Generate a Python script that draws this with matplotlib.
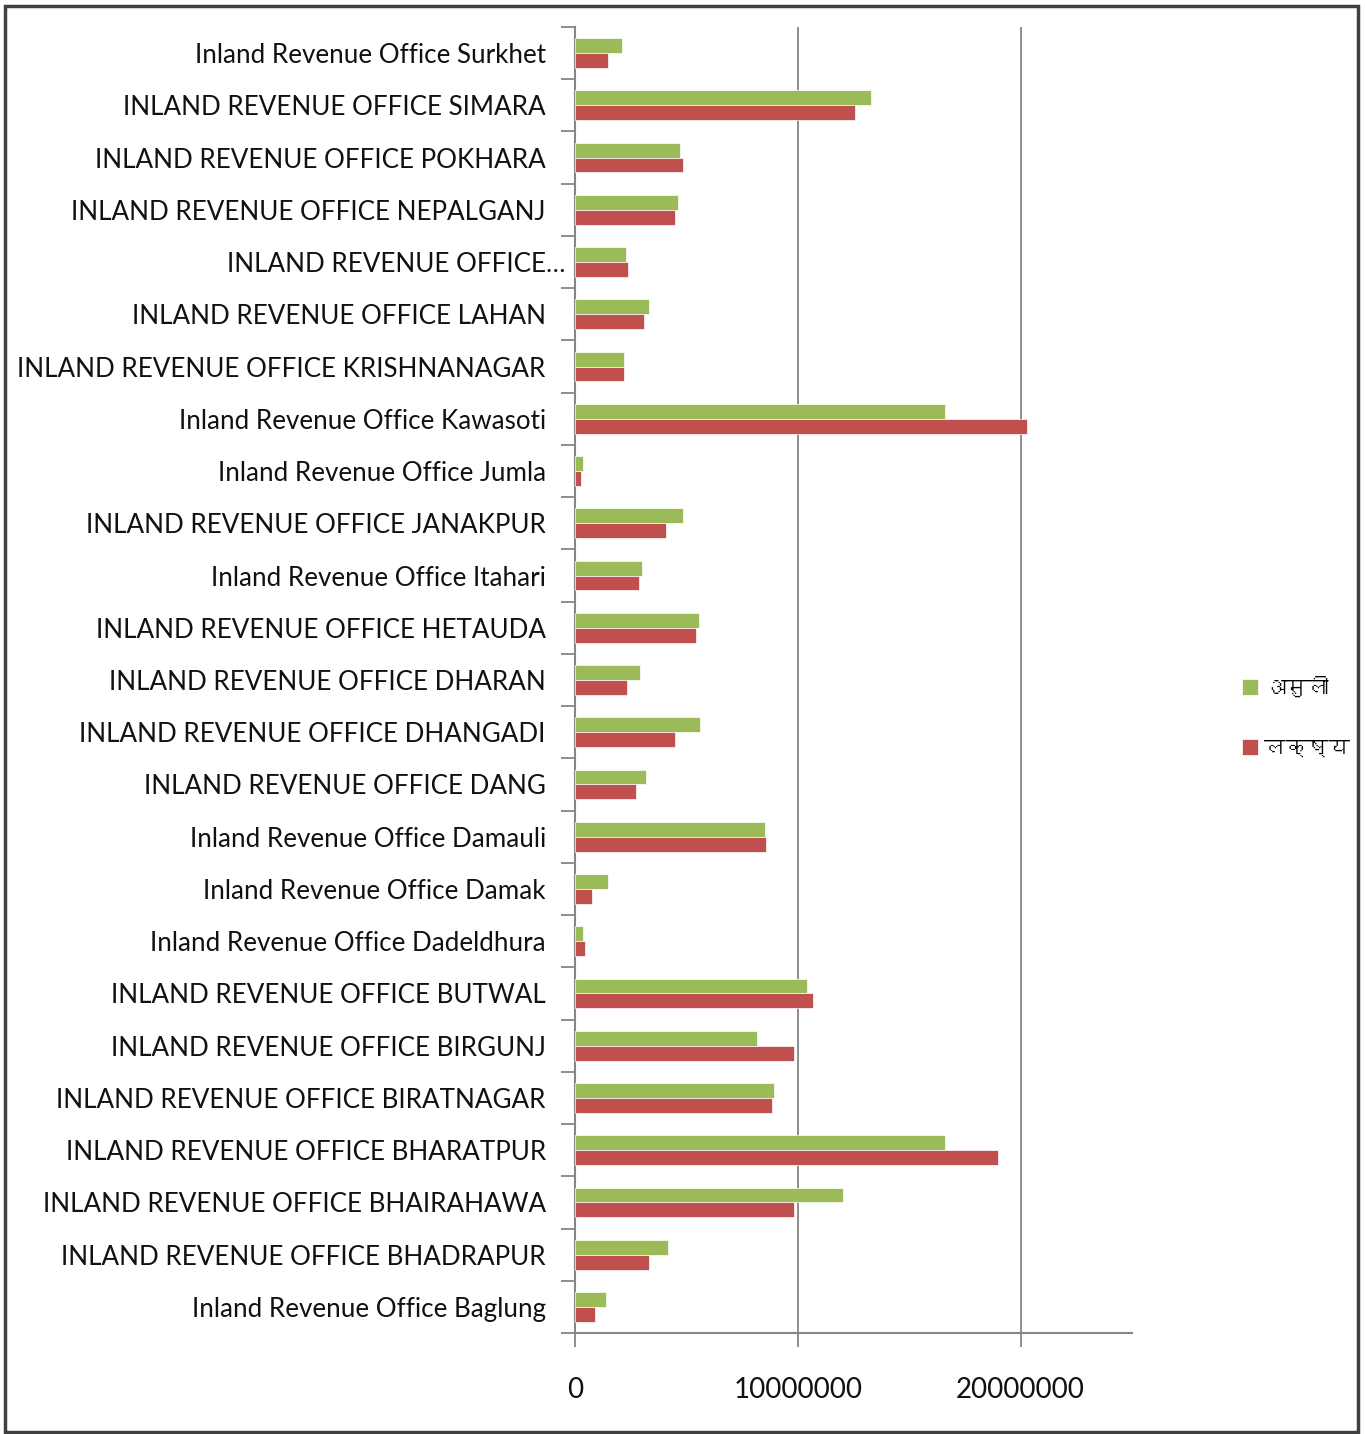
import matplotlib
matplotlib.use("Agg")
import matplotlib.pyplot as plt
from matplotlib import font_manager
from matplotlib.patches import Rectangle
import matplotlib.transforms as mtransforms
import numpy as np

# ---- data (bottom to top) ----
categories = [
    "Inland Revenue Office Baglung",
    "INLAND REVENUE OFFICE BHADRAPUR",
    "INLAND REVENUE OFFICE BHAIRAHAWA",
    "INLAND REVENUE OFFICE BHARATPUR",
    "INLAND REVENUE OFFICE BIRATNAGAR",
    "INLAND REVENUE OFFICE BIRGUNJ",
    "INLAND REVENUE OFFICE BUTWAL",
    "Inland Revenue Office Dadeldhura",
    "Inland Revenue Office Damak",
    "Inland Revenue Office Damauli",
    "INLAND REVENUE OFFICE DANG",
    "INLAND REVENUE OFFICE DHANGADI",
    "INLAND REVENUE OFFICE DHARAN",
    "INLAND REVENUE OFFICE HETAUDA",
    "Inland Revenue Office Itahari",
    "INLAND REVENUE OFFICE JANAKPUR",
    "Inland Revenue Office Jumla",
    "Inland Revenue Office Kawasoti",
    "INLAND REVENUE OFFICE KRISHNANAGAR",
    "INLAND REVENUE OFFICE LAHAN",
    "INLAND REVENUE OFFICE\u2026",
    "INLAND REVENUE OFFICE NEPALGANJ",
    "INLAND REVENUE OFFICE POKHARA",
    "INLAND REVENUE OFFICE SIMARA",
    "Inland Revenue Office Surkhet",
]
asuli = [1.39e6, 4.18e6, 12.04e6, 16.61e6, 8.94e6, 8.18e6, 10.43e6, 0.36e6, 1.48e6, 8.54e6,
         3.19e6, 5.62e6, 2.92e6, 5.57e6, 3.01e6, 4.85e6, 0.36e6, 16.61e6, 2.20e6, 3.33e6,
         2.29e6, 4.63e6, 4.72e6, 13.27e6, 2.13e6]
lakshya = [0.90e6, 3.33e6, 9.84e6, 18.97e6, 8.85e6, 9.84e6, 10.70e6, 0.45e6, 0.76e6, 8.58e6,
           2.74e6, 4.49e6, 2.34e6, 5.44e6, 2.88e6, 4.09e6, 0.27e6, 20.27e6, 2.20e6, 3.10e6,
           2.38e6, 4.49e6, 4.85e6, 12.55e6, 1.48e6]
series_names = ["असुली", "लक्ष्य"]
xticks = [0, 10000000, 20000000]

GREEN = "#9BBB59"
RED = "#C0504D"
AX = "#868686"

# find a font with Devanagari glyphs
deva_font = None
try:
    from fontTools.ttLib import TTFont
    for fe in font_manager.fontManager.ttflist:
        try:
            tt = TTFont(fe.fname, fontNumber=0, lazy=True)
            cmap = tt.getBestCmap()
            if cmap and 0x0905 in cmap and 0x0932 in cmap:
                deva_font = fe.name
                break
        except Exception:
            pass
except Exception:
    pass

label_font = "Lato"

fig = plt.figure(figsize=(13.65, 14.34), dpi=100)
ax = fig.add_axes([0.4212, 0.0704, 0.8293 - 0.4212, 0.9812 - 0.0704])

y = np.arange(len(categories))
h = 1 / 3.5
ax.barh(y + h / 2, asuli, height=h, color=GREEN, edgecolor="white", linewidth=0.5, label=series_names[0], zorder=3)
ax.barh(y - h / 2, lakshya, height=h, color=RED, edgecolor="white", linewidth=0.5, label=series_names[1], zorder=3)

ax.set_ylim(-0.5, len(categories) - 0.5)
ax.set_xlim(0, 25e6)

ax.set_xticks(xticks)
ax.set_xticklabels([str(v) for v in xticks], fontsize=20, family=label_font, color="#111111")
ax.set_yticks(y)
ax.set_yticklabels(categories, fontsize=18.7, family=label_font, color="#111111")
ax.set_yticks(np.arange(-0.5, len(categories), 1), minor=True)

ax.tick_params(axis="y", which="major", length=0, pad=21)
ax.tick_params(axis="y", which="minor", length=10, width=1.3, color=AX, direction="out")
ax.tick_params(axis="x", which="major", length=10, width=1.3, color=AX, direction="out", pad=22)

# the truncated label overhangs to the right in the original
lbl = ax.get_yticklabels()[20]
lbl.set_transform(lbl.get_transform() + mtransforms.ScaledTranslation(20 / 100, 0, fig.dpi_scale_trans))

for s in ["top", "right"]:
    ax.spines[s].set_visible(False)
for s in ["left", "bottom"]:
    ax.spines[s].set_color(AX)
    ax.spines[s].set_linewidth(1.5)

ax.xaxis.grid(True, color=AX, linewidth=1.3, zorder=0)
ax.set_axisbelow(True)

leg = fig.legend(loc="center left", bbox_to_anchor=(0.9096, 0.5), frameon=False,
                 handlelength=0.75, handleheight=0.75, handletextpad=0.3, labelspacing=1.95,
                 borderpad=0.0, borderaxespad=0.0,
                 prop={"family": deva_font if deva_font else "DejaVu Sans", "size": 15.5})

fig.patches.append(Rectangle((0.0035, 0.0015), 0.9915, 0.9945, transform=fig.transFigure,
                             fill=False, edgecolor="#404040", linewidth=2.5))

fig.savefig("out.png", dpi=100, facecolor="white")
